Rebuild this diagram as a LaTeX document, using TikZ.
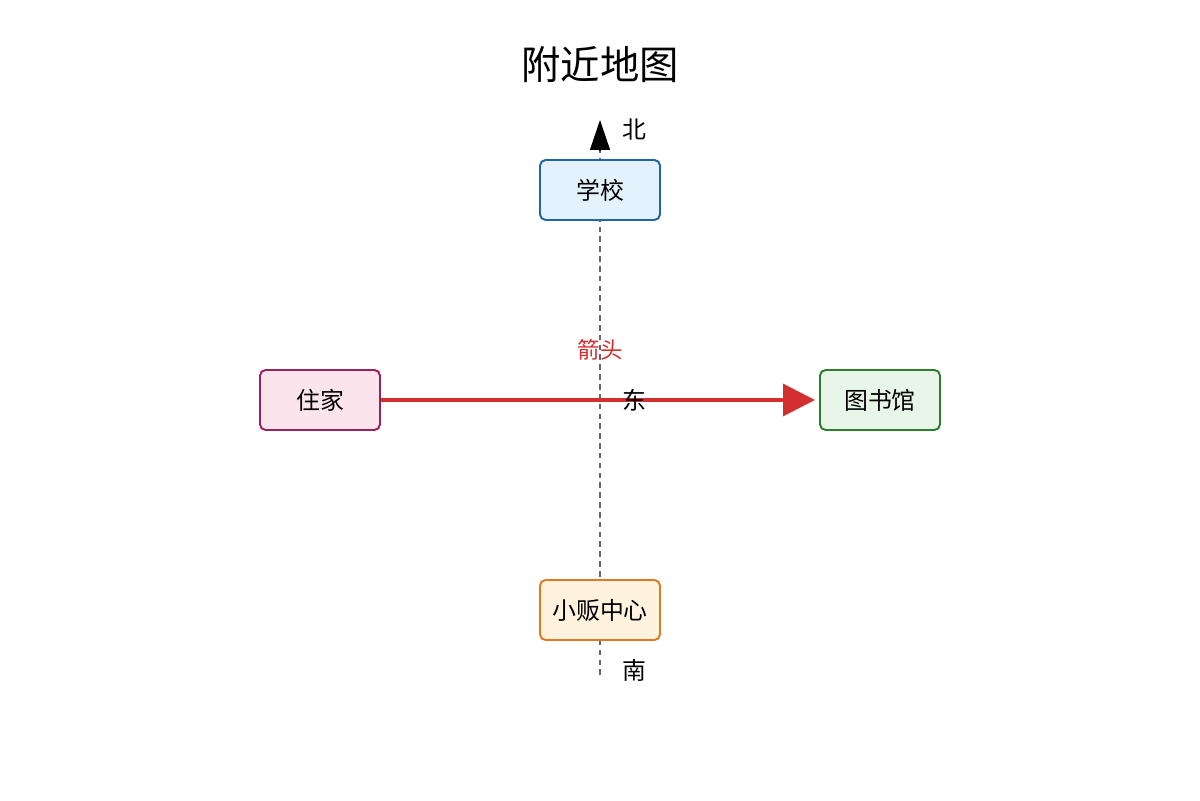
\documentclass[tikz,border=0pt]{standalone}
\usepackage{fontspec}
\setmainfont{Noto Sans CJK SC}
\usetikzlibrary{arrows.meta}
\definecolor{schoolfill}{HTML}{E3F2FD}
\definecolor{schoolline}{HTML}{1F65A8}
\definecolor{homefill}{HTML}{FCE4EC}
\definecolor{homeline}{HTML}{9C1F5E}
\definecolor{libfill}{HTML}{E8F5E9}
\definecolor{libline}{HTML}{2E7D32}
\definecolor{shopfill}{HTML}{FFF3E0}
\definecolor{shopline}{HTML}{E07B1F}
\definecolor{routered}{HTML}{D32F2F}
\tikzset{
  place/.style={draw,rounded corners=4pt,line width=1.4pt,minimum width=3cm,minimum height=1.5cm,inner sep=0pt,font=\fontsize{17}{20}\selectfont},
  compass/.style={font=\fontsize{17}{20}\selectfont}
}
\begin{document}
\begin{tikzpicture}
  \useasboundingbox (0,0) rectangle (30,20);
  \node[font=\fontsize{28}{32}\selectfont] (title) at (15,18.375) {附近地图};

  % north-south axis
  \coordinate (south) at (15,3.125);
  \coordinate (north) at (15,16.25);
  \coordinate (ntip) at (15,17);
  \draw[gray!80!black,dashed,line width=1pt,dash pattern=on 4pt off 3pt] (south) -- (north);
  \draw[line width=1pt,-{Triangle[length=0.75cm,width=0.5cm]}] (north) -- (ntip);

  \node[place,fill=schoolfill,draw=schoolline] (school) at (15,15.25) {学校};
  \node[place,fill=homefill,draw=homeline] (home) at (8,10) {住家};
  \node[place,fill=libfill,draw=libline] (library) at (22,10) {图书馆};
  \node[place,fill=shopfill,draw=shopline] (shop) at (15,4.75) {小贩中心};

  % route east
  \coordinate (etip) at (20.375,10);
  \draw[routered,line width=2.2pt,-{Triangle[length=0.8cm,width=0.8cm]}] (home.east) -- (etip);

  \node[compass] (n) at (15.85,16.75) {北};
  \node[compass] (s) at (15.85,3.25) {南};
  \node[compass] (e) at (15.85,10) {东};
  \node[compass,text=routered,font=\fontsize{16}{19}\selectfont] (lbl) at (15,11.25) {箭头};
\end{tikzpicture}
\end{document}
